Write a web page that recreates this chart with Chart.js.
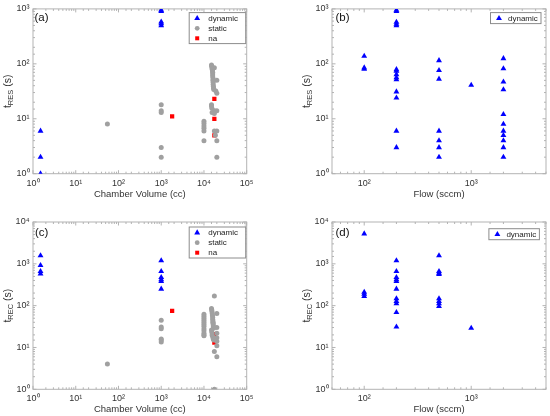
<!DOCTYPE html>
<html><head><meta charset="utf-8">
<script src="https://cdn.jsdelivr.net/npm/chart.js@4.4.1/dist/chart.umd.min.js"></script>
<style>
html,body{margin:0;padding:0;background:#fff;width:550px;height:416px;overflow:hidden}
canvas{position:absolute}
</style></head><body>
<canvas id="ca" width="275" height="208" style="left:0;top:0;width:275px;height:208px"></canvas>
<canvas id="cb" width="275" height="208" style="left:275px;top:0;width:275px;height:208px"></canvas>
<canvas id="cc" width="275" height="208" style="left:0;top:208px;width:275px;height:208px"></canvas>
<canvas id="cd" width="275" height="208" style="left:275px;top:208px;width:275px;height:208px"></canvas>
<script>
// ---------- data ----------
const seriesNames = ['dynamic', 'static', 'na'];
const volTicks = ['10⁰', '10¹', '10²', '10³', '10⁴', '10⁵'];
const flowTicks = ['10²', '10³'];
const yTicks = ['10⁰', '10¹', '10²', '10³', '10⁴'];

// (a) response time vs chamber volume
const aDynVol = [1.5, 1.5, 1.5, 1000, 1000, 1000, 1000, 1000];
const aDynRes = [1, 2, 6, 950, 900, 580, 540, 500];
const aStaVol = [55, 1000, 1000, 1000, 1000, 1000, 10000, 10000, 10000, 10000, 10000, 10000,
  15000, 15200, 15400, 15600, 15800, 16000, 16000, 16000, 16200, 16200, 16400, 16400, 16600, 16800, 17000,
  15000, 15000, 15300, 15500, 17500, 20000, 19000, 20000, 17500, 20000, 17500, 17500, 20000, 18500, 20000, 20000];
const aStaRes = [8, 18, 14, 13, 3, 2, 9, 8.2, 7.4, 6.7, 6, 4,
  95, 90, 85, 80, 75, 70, 65, 60, 55, 50, 46, 42, 39, 36, 34,
  18, 17, 15.5, 13, 85, 50, 32, 29, 14, 14, 12.5, 6, 6, 5, 4, 2];
const aNaVol = [1800, 17500, 17500, 17500];
const aNaRes = [11, 23, 10, 5];

// (b) response time vs flow
const bFlow = [100, 100, 100,
  200, 200, 200, 200, 200, 200, 200, 200, 200, 200, 200, 200, 200, 200,
  500, 500, 500, 500, 500, 500, 500,
  1000,
  2000, 2000, 2000, 2000, 2000, 2000, 2000, 2000, 2000, 2000, 2000];
const bRes = [138, 85, 80,
  950, 900, 575, 530, 500, 79, 74, 64, 56, 52, 31, 24, 6, 3,
  115, 76, 53, 6, 4, 3, 2,
  41,
  125, 82, 47, 34, 12, 8, 6, 5, 4, 3, 2];

// (c) recovery time vs chamber volume
const cDynVol = [1.5, 1.5, 1.5, 1.5, 1000, 1000, 1000, 1000, 1000, 1000];
const cDynRec = [1570, 920, 660, 580, 1190, 660, 475, 420, 380, 250];
const cStaVol = [55, 1000, 1000, 1000, 1000, 1000, 1000,
  10000, 10000, 10000, 10000, 10000, 10000, 10000, 10000, 10000, 10000, 10000, 10000,
  15000, 15200, 15400, 15600, 15800, 16000, 16000, 16200, 16200, 16400, 16400, 16600, 16800, 15000, 15300, 15500, 16000, 16500, 17000,
  17500, 20000, 20000, 20000, 20000, 20000, 20000, 20000, 17500, 17500];
const cStaRec = [4, 45, 31, 28, 16, 15, 13.5,
  62, 56, 50, 45, 40, 36, 32, 28, 25, 22, 20, 19,
  85, 80, 72, 65, 58, 52, 47, 43, 40, 38, 35, 32, 29, 26, 23, 20, 18, 16, 15,
  170, 65, 30, 22, 17, 14, 11, 6, 8, 1];
const cNaVol = [1800, 17500, 17500];
const cNaRec = [75, 21, 13];

// (d) recovery time vs flow
const dFlow = [100, 100, 100, 100,
  200, 200, 200, 200, 200, 200, 200, 200, 200, 200, 200,
  500, 500, 500, 500, 500, 500, 500, 500,
  1000];
const dRec = [5250, 210, 190, 167,
  1190, 660, 475, 420, 380, 250, 147, 127, 112, 69, 31,
  1570, 660, 600, 560, 147, 127, 112, 96,
  29];

// ---------- styling ----------
const FONT = "'Liberation Sans', Arial, Helvetica, sans-serif";
const AXIS = '#b3b3b3';
const TXT = '#333333';
const BLUE = '#0000ff', GRAY = '#a0a0a0', RED = '#ff0000';
const TRI_R = 3.4;

function pts(xs, ys) { return xs.map((x, i) => ({x: x, y: ys[i]})); }
function isPow10(v) { const l = Math.log10(v); return Math.abs(l - Math.round(l)) < 1e-9; }
function supLabel(list, first) {
  return function (v) {
    if (!isPow10(v)) return '';
    const i = Math.round(Math.log10(v)) - first;
    return list[i] !== undefined ? list[i] : '';
  };
}
function dsDyn(data) { return {label: seriesNames[0], data: data, pointStyle: 'triangle', radius: TRI_R, backgroundColor: BLUE, borderColor: BLUE, borderWidth: 0}; }
function dsSta(data) { return {label: seriesNames[1], data: data, pointStyle: 'circle', radius: 2.5, backgroundColor: GRAY, borderColor: GRAY, borderWidth: 0}; }
function dsNa(data) { return {label: seriesNames[2], data: data, pointStyle: 'rect', radius: 3, backgroundColor: RED, borderColor: RED, borderWidth: 0}; }

function drawMarker(ctx, style, x, y, color) {
  ctx.fillStyle = color;
  ctx.beginPath();
  if (style === 'triangle') {
    const r = TRI_R;
    ctx.moveTo(x, y - r);
    ctx.lineTo(x + r * 0.866, y + r * 0.5);
    ctx.lineTo(x - r * 0.866, y + r * 0.5);
    ctx.closePath();
  } else if (style === 'circle') {
    ctx.arc(x, y, 2.4, 0, Math.PI * 2);
  } else {
    ctx.rect(x - 2, y - 2, 4, 4);
  }
  ctx.fill();
}

const panelPlugin = {
  id: 'panel',
  beforeDatasetsDraw(chart) {
    const ctx = chart.ctx;
    const {left, right, top, bottom} = chart.chartArea;
    ctx.save();
    ctx.strokeStyle = AXIS;
    ctx.lineWidth = 1;
    ctx.strokeRect(left, top, right - left, bottom - top);
    const xs = chart.scales.x, ys = chart.scales.y;
    ctx.beginPath();
    xs.ticks.forEach(t => {
      const p = xs.getPixelForValue(t.value);
      if (p < left - 0.5 || p > right + 0.5) return;
      const len = isPow10(t.value) ? 3.5 : 2;
      ctx.moveTo(p, bottom); ctx.lineTo(p, bottom - len);
      ctx.moveTo(p, top); ctx.lineTo(p, top + len);
    });
    ys.ticks.forEach(t => {
      const p = ys.getPixelForValue(t.value);
      if (p < top - 0.5 || p > bottom + 0.5) return;
      const len = isPow10(t.value) ? 3.5 : 2;
      ctx.moveTo(left, p); ctx.lineTo(left + len, p);
      ctx.moveTo(right, p); ctx.lineTo(right - len, p);
    });
    ctx.stroke();
    ctx.restore();
  },
  afterDraw(chart, args, o) {
    const ctx = chart.ctx;
    const {left, right, top, bottom} = chart.chartArea;
    ctx.save();
    // panel letter
    ctx.fillStyle = '#111';
    ctx.font = '11.5px ' + FONT;
    ctx.textBaseline = 'middle';
    ctx.textAlign = 'left';
    ctx.fillText(o.letter, left + o.letterDx, top + o.letterDy);
    // y title with subscript
    const mainF = '10.5px ' + FONT, subF = '7.5px ' + FONT;
    ctx.font = mainF; const w1 = ctx.measureText(o.yMain).width;
    const w3 = ctx.measureText(o.yTail).width;
    ctx.font = subF; const w2 = ctx.measureText(o.ySub).width;
    const total = w1 + w2 + w3;
    const cy = (top + bottom) / 2;
    ctx.translate(o.yTitleX, cy);
    ctx.rotate(-Math.PI / 2);
    ctx.fillStyle = TXT;
    ctx.textBaseline = 'alphabetic';
    let x0 = -total / 2;
    ctx.font = mainF; ctx.fillText(o.yMain, x0, 3.5); x0 += w1;
    ctx.font = subF; ctx.fillText(o.ySub, x0, 6); x0 += w2;
    ctx.font = mainF; ctx.fillText(o.yTail, x0, 3.5);
    ctx.setTransform(1, 0, 0, 1, 0, 0);
    ctx.restore();
    // legend
    ctx.save();
    const dss = chart.data.datasets;
    const bx = right - o.legRight - o.legW, by = top + o.legTop;
    const bh = dss.length * 10 + 1;
    ctx.fillStyle = '#fff';
    ctx.fillRect(bx, by, o.legW, bh);
    ctx.strokeStyle = '#8c8c8c';
    ctx.lineWidth = 1;
    ctx.strokeRect(bx, by, o.legW, bh);
    ctx.font = '8px ' + FONT;
    ctx.textBaseline = 'middle';
    ctx.textAlign = 'left';
    dss.forEach((d, i) => {
      const yy = by + 5.7 + i * 10;
      drawMarker(ctx, d.pointStyle, bx + o.legMark, yy, d.backgroundColor);
      ctx.fillStyle = '#222';
      ctx.fillText(d.label, bx + o.legText, yy);
    });
    ctx.restore();
  }
};

function makeChart(id, datasets, cfg) {
  const tickFont = {family: FONT, size: 9};
  new Chart(document.getElementById(id), {
    type: 'scatter',
    data: {datasets: datasets},
    options: {
      responsive: false,
      animation: false,
      devicePixelRatio: 1,
      layout: {padding: {left: 0, right: cfg.padR, top: cfg.padT, bottom: 0}},
      plugins: {legend: {display: false}, tooltip: {enabled: false}, panel: cfg.panel},
      scales: {
        x: {
          type: 'logarithmic', min: cfg.xmin, max: cfg.xmax,
          grid: {display: false, drawTicks: false},
          border: {display: false},
          ticks: {autoSkip: false, maxRotation: 0, padding: 4, color: TXT, font: tickFont,
                  callback: supLabel(cfg.xLabels, cfg.xFirst)},
          title: {display: true, text: cfg.xTitle, color: TXT, font: {family: FONT, size: 9.5}, padding: {top: 0, bottom: cfg.xTitlePad}},
          afterFit: s => { s.height = cfg.xH; }
        },
        y: {
          type: 'logarithmic', min: 1, max: cfg.ymax,
          grid: {display: false, drawTicks: false},
          border: {display: false},
          ticks: {autoSkip: false, padding: 3.5, color: TXT, font: tickFont,
                  callback: supLabel(yTicks, 0)},
          afterFit: s => { s.width = cfg.yW; }
        }
      }
    },
    plugins: [panelPlugin]
  });
}

makeChart('ca', [dsDyn(pts(aDynVol, aDynRes)), dsSta(pts(aStaVol, aStaRes)), dsNa(pts(aNaVol, aNaRes))], {
  padR: 28.3, padT: 7.3, xH: 34.3, yW: 33, xmin: 1, xmax: 1e5, ymax: 1e3,
  xLabels: volTicks, xFirst: 0, xTitle: 'Chamber Volume (cc)', xTitlePad: 8,
  panel: {letter: '(a)', letterDx: 1.5, letterDy: 9, yMain: 't', ySub: 'RES', yTail: ' (s)', yTitleX: 7,
          legRight: 1, legTop: 3.7, legW: 56.5, legMark: 8, legText: 19}
});
makeChart('cb', [dsDyn(pts(bFlow, bRes))], {
  padR: 1.7, padT: 7.3, xH: 34.3, yW: 57, xmin: 50, xmax: 5000, ymax: 1e3,
  xLabels: flowTicks, xFirst: 2, xTitle: 'Flow (sccm)', xTitlePad: 8,
  panel: {letter: '(b)', letterDx: 3.5, letterDy: 9, yMain: 't', ySub: 'RES', yTail: ' (s)', yTitleX: 31,
          legRight: 5, legTop: 3.7, legW: 50.5, legMark: 8.5, legText: 17.5}
});
makeChart('cc', [dsDyn(pts(cDynVol, cDynRec)), dsSta(pts(cStaVol, cStaRec)), dsNa(pts(cNaVol, cNaRec))], {
  padR: 28.3, padT: 14, xH: 26.7, yW: 33, xmin: 1, xmax: 1e5, ymax: 1e4,
  xLabels: volTicks, xFirst: 0, xTitle: 'Chamber Volume (cc)', xTitlePad: 0.5,
  panel: {letter: '(c)', letterDx: 2, letterDy: 10.5, yMain: 't', ySub: 'REC', yTail: ' (s)', yTitleX: 7,
          legRight: 1, legTop: 5, legW: 56.5, legMark: 8, legText: 19}
});
makeChart('cd', [dsDyn(pts(dFlow, dRec))], {
  padR: 1.7, padT: 14, xH: 26.7, yW: 57, xmin: 50, xmax: 5000, ymax: 1e4,
  xLabels: flowTicks, xFirst: 2, xTitle: 'Flow (sccm)', xTitlePad: 0.5,
  panel: {letter: '(d)', letterDx: 3.5, letterDy: 10.5, yMain: 't', ySub: 'REC', yTail: ' (s)', yTitleX: 31,
          legRight: 6.6, legTop: 6.7, legW: 50.5, legMark: 8.5, legText: 17.5}
});
</script>
</body></html>
